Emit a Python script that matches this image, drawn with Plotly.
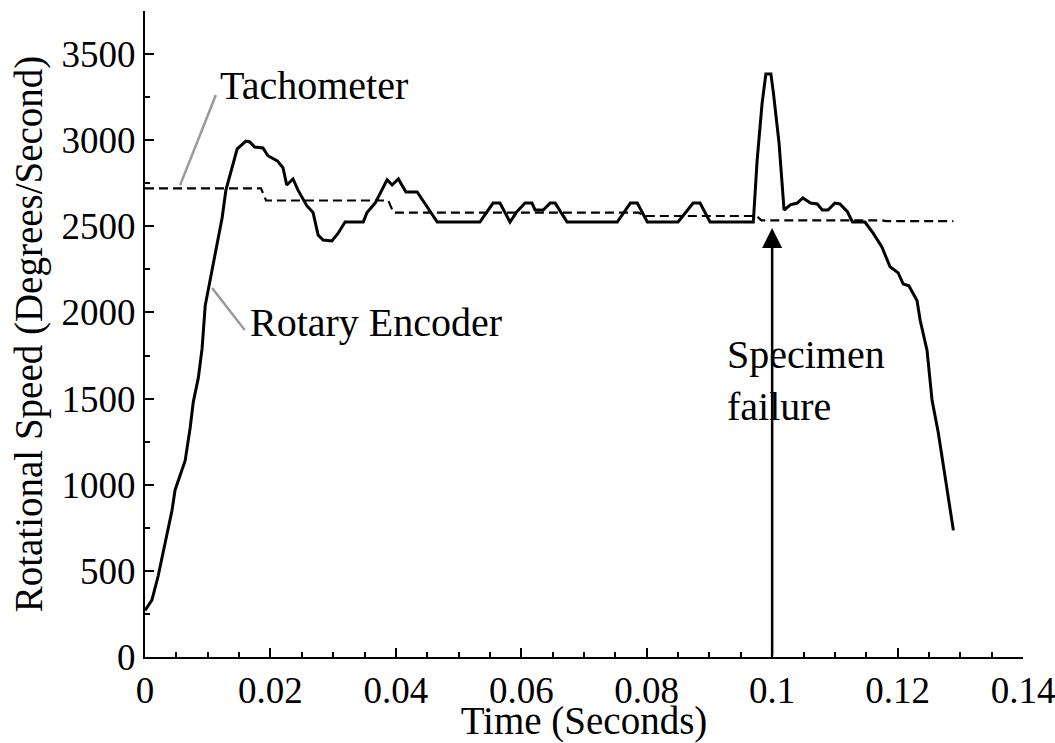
import plotly.graph_objects as go

# Rotary encoder (solid) time [s], speed [deg/s]
enc_t = [0.0000, 0.0011, 0.0021, 0.0032, 0.0043, 0.0048, 0.0059, 0.0064, 0.0072, 0.0077,
         0.0085, 0.0091, 0.0096, 0.0107, 0.0115, 0.0123, 0.0129, 0.0139, 0.0147, 0.0161,
         0.0167, 0.0175, 0.0188, 0.0196, 0.0211, 0.0220, 0.0226, 0.0236, 0.0244, 0.0258,
         0.0268, 0.0276, 0.0284, 0.0298, 0.0308, 0.0319, 0.0348, 0.0354, 0.0367, 0.0386,
         0.0394, 0.0404, 0.0416, 0.0434, 0.0450, 0.0466, 0.0534, 0.0555, 0.0566, 0.0582,
         0.0593, 0.0606, 0.0617, 0.0622, 0.0635, 0.0646, 0.0654, 0.0673, 0.0753, 0.0774,
         0.0785, 0.0801, 0.0850, 0.0874, 0.0885, 0.0901, 0.0970, 0.0976, 0.0984, 0.0990,
         0.0998, 0.1002, 0.1011, 0.1019, 0.1029, 0.1040, 0.1049, 0.1061, 0.1072, 0.1080,
         0.1089, 0.1100, 0.1108, 0.1120, 0.1128, 0.1148, 0.1161, 0.1175, 0.1188, 0.1201,
         0.1209, 0.1218, 0.1231, 0.1236, 0.1247, 0.1255, 0.1265, 0.1276, 0.1289]
enc_v = [270, 330, 470, 660, 850, 970, 1080, 1140, 1330, 1480,
         1620, 1790, 2040, 2250, 2420, 2550, 2710, 2840, 2950, 2995,
         2990, 2960, 2955, 2910, 2880, 2840, 2740, 2775, 2710, 2620,
         2580, 2450, 2420, 2415, 2460, 2525, 2525, 2580, 2635, 2770,
         2740, 2775, 2700, 2700, 2610, 2525, 2525, 2635, 2635, 2525,
         2585, 2635, 2635, 2595, 2595, 2635, 2635, 2525, 2525, 2635,
         2635, 2525, 2525, 2635, 2635, 2525, 2525, 2880, 3215, 3385,
         3385, 3275, 2985, 2595, 2625, 2635, 2665, 2635, 2630, 2595,
         2595, 2635, 2630, 2585, 2525, 2525, 2460, 2380, 2265, 2230,
         2165, 2155, 2070, 1955, 1780, 1490, 1300, 1045, 735]

# Tachometer (dashed)
tach_t = [0.0000, 0.0185, 0.0193, 0.0388, 0.0396, 0.0787, 0.0795, 0.0975, 0.0983, 0.1175, 0.1182, 0.1289]
tach_v = [2720, 2720, 2650, 2650, 2580, 2580, 2560, 2560, 2535, 2535, 2530, 2530]

x_ticks = [0, 0.02, 0.04, 0.06, 0.08, 0.1, 0.12, 0.14]
x_tick_text = ["0", "0.02", "0.04", "0.06", "0.08", "0.1", "0.12", "0.14"]
y_ticks = [0, 500, 1000, 1500, 2000, 2500, 3000, 3500]

failure_t = 0.1
failure_v = 2490

FONT = "Liberation Serif, Times New Roman, serif"

fig = go.Figure()
fig.add_trace(go.Scatter(x=tach_t, y=tach_v, mode="lines",
                         line=dict(color="black", width=2.2, dash="9px,5px"),
                         name="Tachometer", showlegend=False))
fig.add_trace(go.Scatter(x=enc_t, y=enc_v, mode="lines",
                         line=dict(color="black", width=3),
                         name="Rotary Encoder", showlegend=False))

# leader lines for labels
fig.add_shape(type="line", x0=0.0056, y0=2739, x1=0.0113, y1=3262,
              line=dict(color="#999999", width=2.5))
fig.add_shape(type="line", x0=0.0107, y0=2142, x1=0.0159, y1=1898,
              line=dict(color="#999999", width=2.5))

fig.add_annotation(x=0.0116, y=3320, text="Tachometer", showarrow=False,
                   xanchor="left", yanchor="middle", font=dict(family=FONT, size=40, color="black"))
fig.add_annotation(x=0.0164, y=1944, text="Rotary Encoder", showarrow=False,
                   xanchor="left", yanchor="middle", font=dict(family=FONT, size=40, color="black"))
fig.add_annotation(x=0.0925, y=1608, text="Specimen<br>failure", showarrow=False, align="left",
                   xanchor="left", yanchor="middle", font=dict(family=FONT, size=40, color="black"))

# failure arrow
fig.add_annotation(x=failure_t, y=failure_v, ax=failure_t, ay=0, xref="x", yref="y",
                   axref="x", ayref="y", showarrow=True, arrowhead=2, arrowsize=1.6,
                   arrowwidth=2.5, arrowcolor="black", text="")

axis_common = dict(showline=True, linecolor="black", linewidth=2, ticks="inside",
                   ticklen=9, tickwidth=2, tickcolor="black", showgrid=False, zeroline=False,
                   tickfont=dict(family=FONT, size=37, color="black"),
                   title_font=dict(family=FONT, size=39, color="black"), mirror=False,
                   automargin=False, ticklabeloverflow="allow")

fig.update_xaxes(range=[0, 0.14], tickvals=x_ticks, ticktext=x_tick_text,
                 minor=dict(dtick=0.005, tick0=0, ticks="inside", ticklen=5, tickwidth=2, tickcolor="black"),
                 title_text="Time (Seconds)", title_standoff=5, **axis_common)
fig.update_yaxes(range=[0, 3750], tickvals=y_ticks,
                 minor=dict(dtick=250, tick0=0, ticks="inside", ticklen=5, tickwidth=2, tickcolor="black"),
                 title_text="Rotational Speed (Degrees/Second)", title_standoff=7, **axis_common)

fig.update_layout(width=1055, height=743, margin=dict(l=145, r=32, t=11, b=86),
                  plot_bgcolor="white", paper_bgcolor="white",
                  font=dict(family=FONT, size=36, color="black"))

fig.write_html("out.html")
